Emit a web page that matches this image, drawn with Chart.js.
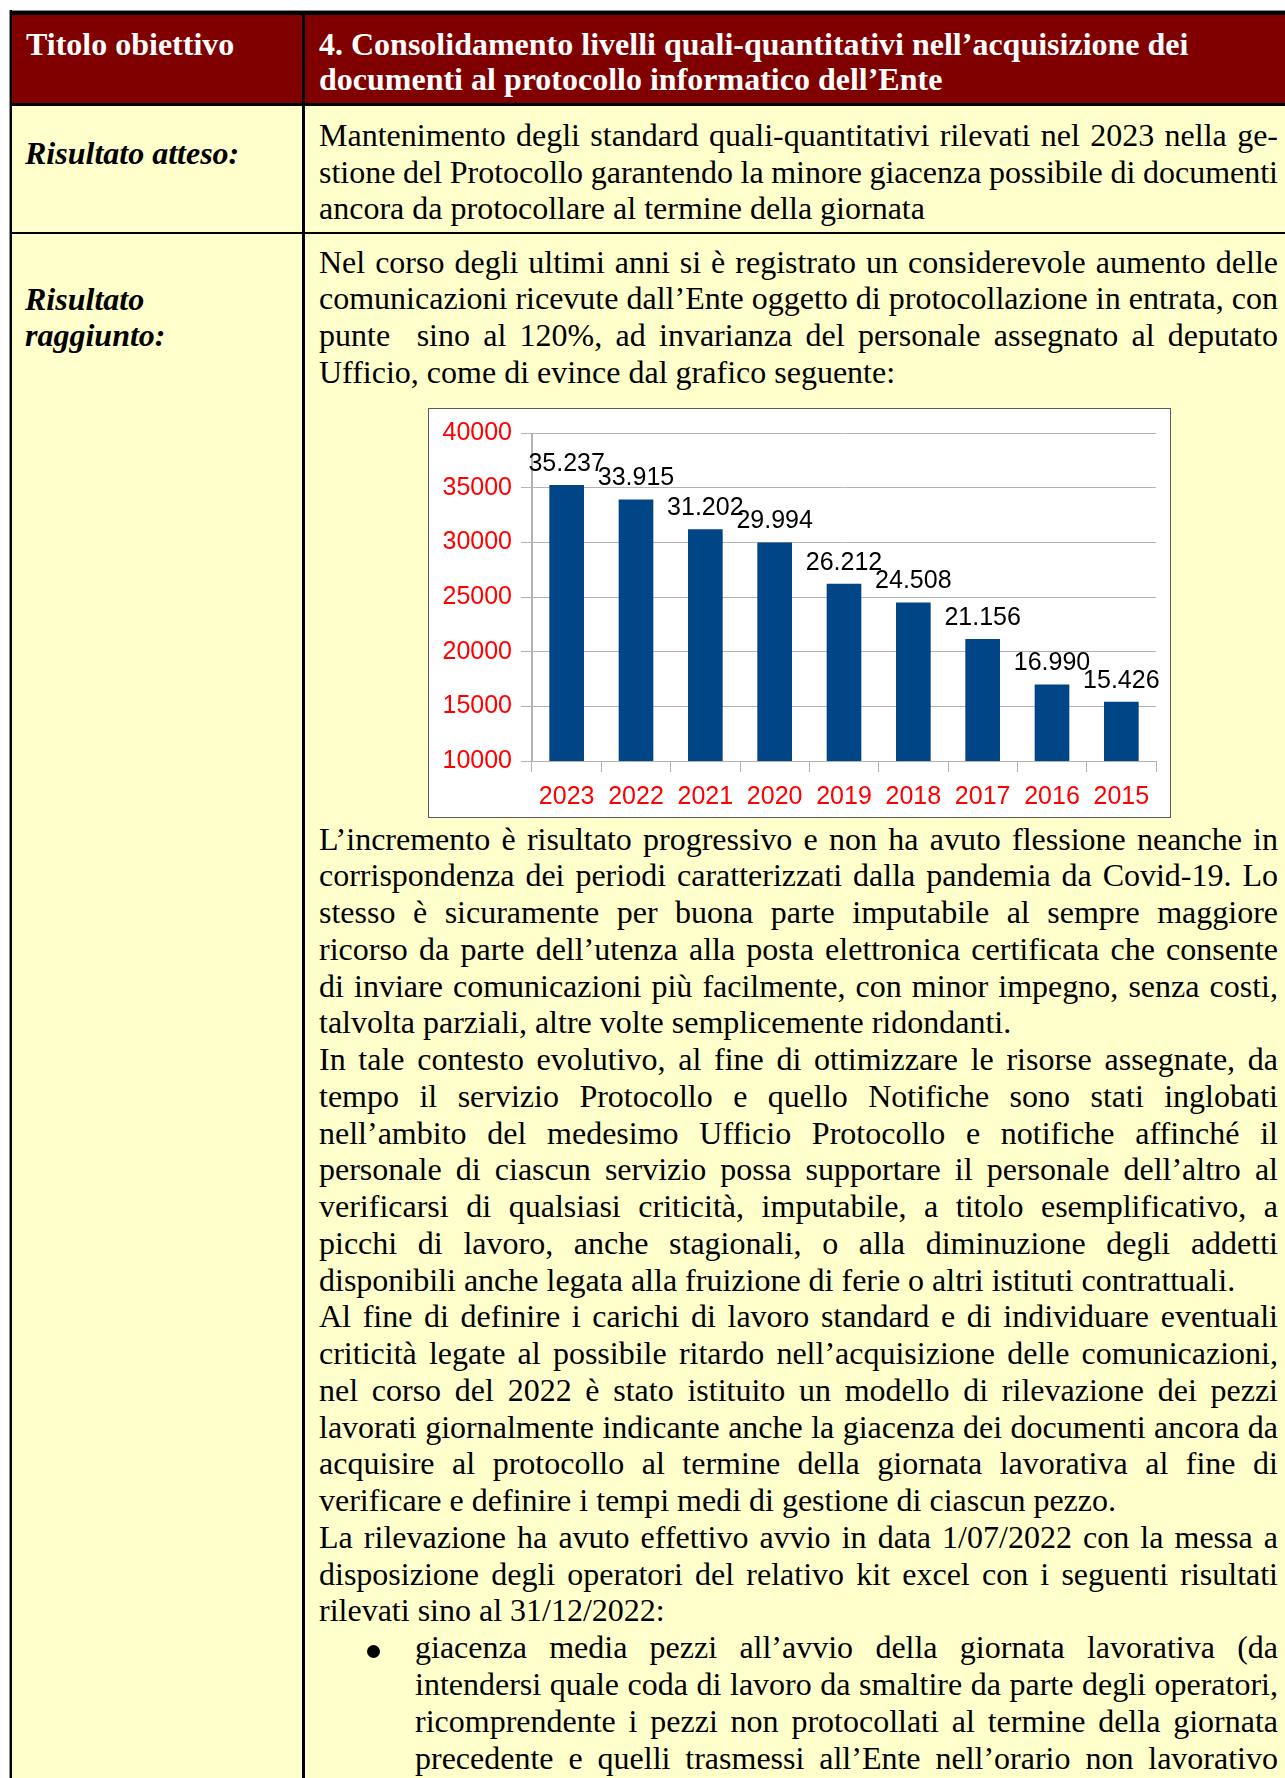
<!DOCTYPE html>
<html lang="it">
<head>
<meta charset="utf-8">
<title>Consolidamento livelli quali-quantitativi</title>
<script src="https://cdn.jsdelivr.net/npm/chart.js@4.4.1/dist/chart.umd.min.js"></script>
<style>
  html, body { margin: 0; padding: 0; background: #fff; }
  body { width: 1285px; height: 1778px; position: relative; overflow: hidden;
         font-family: "Liberation Serif", "Times New Roman", serif; font-size: 32px; color: #000; }
  .abs { position: absolute; }
  .line { height: 36.75px; line-height: 36.75px; white-space: pre; text-align: left; }
  .head { color: #fff; font-weight: bold; line-height: 35px; }
  .lab { font-weight: bold; font-style: italic; line-height: 36.75px; }
  #chartBox { left: 428px; top: 408px; width: 743px; height: 410px; box-sizing: border-box;
              border: 1px solid #5a5a5a; background: #fff; }
  #graphCanvas { display: block; }
  .bullet { width: 13px; height: 13px; border-radius: 50%; background: #000; }
</style>
</head>
<body>
<!-- table background and rules -->
<div class="abs" style="left:9px;top:10px;width:1276px;height:1px;background:#8a8a8a"></div>
<div class="abs" style="left:9px;top:11px;width:1276px;height:4px;background:#000"></div>
<div class="abs" style="left:12px;top:15px;width:1273px;height:88px;background:#800000"></div>
<div class="abs" style="left:12px;top:103px;width:1273px;height:3px;background:#000"></div>
<div class="abs" style="left:12px;top:106px;width:1273px;height:126px;background:#ffffcc"></div>
<div class="abs" style="left:12px;top:232px;width:1273px;height:2px;background:#000"></div>
<div class="abs" style="left:12px;top:234px;width:1273px;height:1544px;background:#ffffcc"></div>
<div class="abs" style="left:9px;top:10px;width:1px;height:1768px;background:#8a8a8a"></div>
<div class="abs" style="left:10px;top:10px;width:2px;height:1768px;background:#000"></div>
<div class="abs" style="left:302px;top:15px;width:3px;height:1763px;background:#000"></div>

<!-- header row -->
<div class="abs head" style="left:26px;top:26.5px">Titolo obiettivo</div>
<div class="abs head" style="left:319px;top:26.5px">4. Consolidamento livelli quali-quantitativi nell’acquisizione dei<br>documenti al protocollo informatico dell’Ente</div>

<!-- risultato atteso -->
<div class="abs lab" style="left:25px;top:134.6px">Risultato atteso:</div>
<div class="abs" style="left:319px;top:116.8px;width:959px">
  <div class="line j">Mantenimento degli standard quali-quantitativi rilevati nel 2023 nella ge-</div>
  <div class="line j">stione del Protocollo garantendo la minore giacenza possibile di documenti</div>
  <div class="line">ancora da protocollare al termine della giornata</div>
</div>

<!-- risultato raggiunto -->
<div class="abs lab" style="left:25px;top:280.6px">Risultato<br>raggiunto:</div>
<div class="abs" style="left:319px;top:243.6px;width:959px">
  <div class="line j">Nel corso degli ultimi anni si è registrato un considerevole aumento delle</div>
  <div class="line j">comunicazioni ricevute dall’Ente oggetto di protocollazione in entrata, con</div>
  <div class="line j">punte  sino al 120%, ad invarianza del personale assegnato al deputato</div>
  <div class="line">Ufficio, come di evince dal grafico seguente:</div>
</div>

<div id="chartBox" class="abs"><canvas id="graphCanvas" width="741" height="408"></canvas></div>

<div class="abs" style="left:319px;top:820.6px;width:959px">
  <div class="line j">L’incremento è risultato progressivo e non ha avuto flessione neanche in</div>
  <div class="line j">corrispondenza dei periodi caratterizzati dalla pandemia da Covid-19. Lo</div>
  <div class="line j">stesso è sicuramente per buona parte imputabile al sempre maggiore</div>
  <div class="line j">ricorso da parte dell’utenza alla posta elettronica certificata che consente</div>
  <div class="line j">di inviare comunicazioni più facilmente, con minor impegno, senza costi,</div>
  <div class="line">talvolta parziali, altre volte semplicemente ridondanti.</div>
  <div class="line j">In tale contesto evolutivo, al fine di ottimizzare le risorse assegnate, da</div>
  <div class="line j">tempo il servizio Protocollo e quello Notifiche sono stati inglobati</div>
  <div class="line j">nell’ambito del medesimo Ufficio Protocollo e notifiche affinché il</div>
  <div class="line j">personale di ciascun servizio possa supportare il personale dell’altro al</div>
  <div class="line j">verificarsi di qualsiasi criticità, imputabile, a titolo esemplificativo, a</div>
  <div class="line j">picchi di lavoro, anche stagionali, o alla diminuzione degli addetti</div>
  <div class="line">disponibili anche legata alla fruizione di ferie o altri istituti contrattuali.</div>
  <div class="line j">Al fine di definire i carichi di lavoro standard e di individuare eventuali</div>
  <div class="line j">criticità legate al possibile ritardo nell’acquisizione delle comunicazioni,</div>
  <div class="line j">nel corso del 2022 è stato istituito un modello di rilevazione dei pezzi</div>
  <div class="line j">lavorati giornalmente indicante anche la giacenza dei documenti ancora da</div>
  <div class="line j">acquisire al protocollo al termine della giornata lavorativa al fine di</div>
  <div class="line">verificare e definire i tempi medi di gestione di ciascun pezzo.</div>
  <div class="line j">La rilevazione ha avuto effettivo avvio in data 1/07/2022 con la messa a</div>
  <div class="line j">disposizione degli operatori del relativo kit excel con i seguenti risultati</div>
  <div class="line">rilevati sino al 31/12/2022:</div>
</div>

<div class="abs bullet" style="left:367px;top:1645px"></div>
<div class="abs" style="left:415px;top:1629.3px;width:863px">
  <div class="line j">giacenza media pezzi all’avvio della giornata lavorativa (da</div>
  <div class="line j">intendersi quale coda di lavoro da smaltire da parte degli operatori,</div>
  <div class="line j">ricomprendente i pezzi non protocollati al termine della giornata</div>
  <div class="line j">precedente e quelli trasmessi all’Ente nell’orario non lavorativo</div>
</div>

<script>
// giustifica ogni riga alla larghezza della colonna, come nel documento
const giustifica = () => {
  document.querySelectorAll(".line.j").forEach((el) => {
    if (!el.firstElementChild) {
      const s = document.createElement("span");
      s.textContent = el.textContent;
      el.textContent = "";
      el.appendChild(s);
    }
    el.style.wordSpacing = "0px";
    const testo = el.firstElementChild;
    const spazi = (testo.textContent.match(/ /g) || []).length;
    const diff = el.clientWidth - testo.getBoundingClientRect().width;
    if (spazi > 0) el.style.wordSpacing = diff / spazi + "px";
  });
};
giustifica();
if (document.fonts) document.fonts.ready.then(giustifica);

// dati del grafico
const anni = ["2023", "2022", "2021", "2020", "2019", "2018", "2017", "2016", "2015"];
const comunicazioni = [35237, 33915, 31202, 29994, 26212, 24508, 21156, 16990, 15426];
const yMin = 10000;
const yMax = 40000;
const yStep = 5000;

const grigio = "#b3b3b3";
const fontAssi = { family: "'Liberation Sans', Arial, sans-serif", size: 25 };

// formato italiano con punto per le migliaia
const formatta = (v) => String(v).replace(/\B(?=(\d{3})+(?!\d))/g, ".");

const etichetteValori = {
  id: "etichetteValori",
  afterDatasetsDraw(chart) {
    const ctx = chart.ctx;
    ctx.save();
    ctx.font = "25px 'Liberation Sans', Arial, sans-serif";
    ctx.fillStyle = "#000";
    ctx.textAlign = "center";
    ctx.textBaseline = "middle";
    chart.getDatasetMeta(0).data.forEach((bar, i) => {
      ctx.fillText(formatta(comunicazioni[i]), bar.x, bar.y - 21);
    });
    ctx.restore();
  },
};

const ctx = document.getElementById("graphCanvas").getContext("2d");
new Chart(ctx, {
  type: "bar",
  data: {
    labels: anni,
    datasets: [
      {
        label: "comunicazioni",
        data: comunicazioni,
        backgroundColor: "#004586",
        borderWidth: 0,
        barPercentage: 0.5,
        categoryPercentage: 1.0,
      },
    ],
  },
  options: {
    responsive: false,
    animation: false,
    devicePixelRatio: 1,
    layout: { padding: { left: 13, right: 14, top: 8, bottom: 0 } },
    plugins: { legend: { display: false }, tooltip: { enabled: false } },
    scales: {
      x: {
        afterFit: (axis) => { axis.height = 56; },
        grid: {
          offset: true,
          color: (c) => (c.index === 0 || c.index === anni.length ? grigio : "rgba(0,0,0,0)"),
          tickColor: grigio,
          tickLength: 11,
          lineWidth: 1,
        },
        border: { display: true, color: grigio },
        ticks: { color: "#ff0000", font: fontAssi, padding: 10, maxRotation: 0 },
      },
      y: {
        min: yMin,
        max: yMax,
        afterFit: (axis) => { axis.width = 90; },
        grid: { color: grigio, tickLength: 11, lineWidth: 1 },
        border: { display: true, color: grigio },
        ticks: {
          stepSize: yStep,
          color: "#ff0000",
          font: fontAssi,
          padding: 9,
          callback: (v) => String(v),
        },
      },
    },
  },
  plugins: [etichetteValori],
});
</script>
</body>
</html>
